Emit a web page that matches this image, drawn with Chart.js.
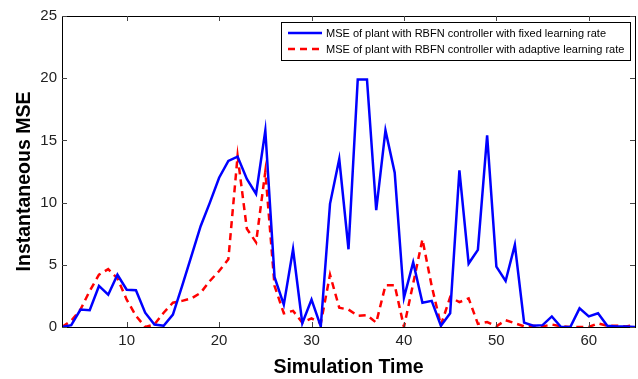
<!DOCTYPE html>
<html>
<head>
<meta charset="utf-8">
<script src="https://cdn.jsdelivr.net/npm/chart.js@4/dist/chart.umd.min.js"></script>
<style>
  html, body { margin: 0; padding: 0; background: #fff; }
  #wrap { width: 638px; height: 379px; }
</style>
</head>
<body>
<div id="wrap"><canvas id="mseChart" width="638" height="379"></canvas></div>
<script>
// Simulation time steps
const simTime = [3,4,5,6,7,8,9,10,11,12,13,14,15,16,17,18,19,20,21,22,23,24,25,26,27,28,29,30,31,32,33,34,
  35,36,37,38,39,40,41,42,43,44,45,46,47,48,49,50,51,52,53,54,55,56,57,58,59,60,61,62,63,64,65];

// MSE with fixed learning rate
const mseFixed = [0,0.15,1.4,1.35,3.3,2.6,4.2,3.0,2.95,1.15,0.2,0.1,1.0,3.3,5.7,8.1,10.0,12.0,13.35,13.7,11.9,10.7,
  15.8,4.0,1.8,6.25,0.3,2.2,0.05,9.9,13.5,6.25,19.9,19.9,9.4,15.8,12.4,2.35,5.2,1.95,2.1,0.1,1.1,12.6,5.1,6.2,
  15.4,4.85,3.7,6.6,0.35,0.1,0.15,0.85,0,0,1.5,0.85,1.1,0.1,0.05,0.05,0];

// MSE with adaptive learning rate
const mseAdaptive = [0,0.5,1.4,2.9,4.2,4.65,3.9,2.2,0.9,0,0.2,1.15,1.95,2.1,2.3,2.75,3.7,4.5,5.45,13.75,7.9,6.8,
  12.5,3.3,1.1,1.3,0.35,0.7,0.3,4.2,1.55,1.4,0.9,0.95,0.35,3.35,3.35,0,3.5,7.05,3.3,0.15,2.4,2.0,2.3,0.25,
  0.4,0.05,0.55,0.3,0.05,0.1,0.05,0.2,0.05,0,0,0,0.3,0.1,0.1,0.05,0.15];

const xTicks = [10,20,30,40,50,60];
const yTicks = [0,5,10,15,20,25];

const seriesLabels = [
  'MSE of plant with RBFN controller with fixed learning rate',
  'MSE of plant with RBFN controller with adaptive learning rate'
];
const yTitle = 'Instantaneous MSE';

function toPoints(values) {
  return simTime.map((t, i) => ({ x: t, y: values[i] }));
}

// Box around the plot with inward ticks on all sides (matlab style)
const framePlugin = {
  id: 'frame',
  afterDraw(chart) {
    const ctx = chart.ctx;
    const a = chart.chartArea;
    const xs = chart.scales.x, ys = chart.scales.y;
    ctx.save();
    ctx.strokeStyle = '#000';
    ctx.lineWidth = 1;
    ctx.strokeRect(Math.round(a.left) + 0.5, Math.round(a.top) + 0.5,
      Math.round(a.right - a.left), Math.round(a.bottom - a.top));
    ctx.strokeStyle = '#444';
    ctx.beginPath();
    xTicks.forEach(v => {
      const px = Math.round(xs.getPixelForValue(v)) + 0.5;
      ctx.moveTo(px, a.bottom); ctx.lineTo(px, a.bottom - 5);
      ctx.moveTo(px, a.top); ctx.lineTo(px, a.top + 5);
    });
    yTicks.forEach(v => {
      const py = Math.round(ys.getPixelForValue(v)) + 0.5;
      ctx.moveTo(a.left, py); ctx.lineTo(a.left + 5, py);
      ctx.moveTo(a.right, py); ctx.lineTo(a.right - 5, py);
    });
    ctx.stroke();

    // y axis title, sits a little below the centre like the original
    ctx.save();
    ctx.translate(25, (a.top + a.bottom) / 2 + 10);
    ctx.rotate(-Math.PI / 2);
    ctx.font = 'bold 19.5px "Liberation Sans", Arial, sans-serif';
    ctx.fillStyle = '#000';
    ctx.textAlign = 'center';
    ctx.textBaseline = 'middle';
    ctx.fillText(yTitle, 0, 0);
    ctx.restore();
    ctx.restore();
  }
};

// Legend box inside the top right corner
const boxLegendPlugin = {
  id: 'boxLegend',
  afterDraw(chart) {
    const ctx = chart.ctx;
    const a = chart.chartArea;
    const left = a.right - 354, top = a.top + 6, w = 349, h = 38;
    ctx.save();
    ctx.fillStyle = '#fff';
    ctx.fillRect(left, top, w, h);
    ctx.strokeStyle = '#000';
    ctx.lineWidth = 1;
    ctx.strokeRect(Math.round(left) + 0.5, Math.round(top) + 0.5, w, h);
    ctx.font = '11px "Liberation Sans", Arial, sans-serif';
    ctx.textBaseline = 'middle';
    ctx.fillStyle = '#000';
    chart.data.datasets.forEach((ds, i) => {
      const y = top + 11 + i * 16;
      ctx.strokeStyle = ds.borderColor;
      ctx.lineWidth = 2.5;
      ctx.setLineDash(ds.borderDash || []);
      ctx.beginPath();
      ctx.moveTo(left + 7, y);
      ctx.lineTo(left + 41, y);
      ctx.stroke();
      ctx.setLineDash([]);
      ctx.fillText(ds.label, left + 45, y + 0.5);
    });
    ctx.restore();
  }
};

new Chart(document.getElementById('mseChart'), {
  type: 'line',
  data: {
    datasets: [
      {
        label: seriesLabels[0],
        data: toPoints(mseFixed),
        borderColor: '#0000ff',
        borderWidth: 2.5,
        pointRadius: 0,
        tension: 0,
        fill: false
      },
      {
        label: seriesLabels[1],
        data: toPoints(mseAdaptive),
        borderColor: '#ff0000',
        borderWidth: 2.5,
        borderDash: [7, 5],
        pointRadius: 0,
        tension: 0,
        fill: false
      }
    ]
  },
  options: {
    responsive: false,
    animation: false,
    layout: { padding: { top: 16, right: 3, left: 0, bottom: 0 } },
    plugins: {
      legend: { display: false },
      tooltip: { enabled: false }
    },
    scales: {
      x: {
        type: 'linear',
        min: 3,
        max: 65,
        afterBuildTicks: s => { s.ticks = xTicks.map(v => ({ value: v })); },
        afterFit: s => { s.height = 52; },
        grid: { display: false, drawTicks: false },
        border: { display: false },
        ticks: {
          padding: 5,
          color: '#222',
          font: { family: '"Liberation Sans", Arial, sans-serif', size: 15 },
          maxRotation: 0
        },
        title: {
          display: true,
          text: 'Simulation Time',
          color: '#000',
          padding: { top: 2, bottom: 0 },
          font: { family: '"Liberation Sans", Arial, sans-serif', size: 19.5, weight: 'bold' }
        }
      },
      y: {
        min: 0,
        max: 25,
        afterBuildTicks: s => { s.ticks = yTicks.map(v => ({ value: v })); },
        afterFit: s => { s.width = 62; },
        grid: { display: false, drawTicks: false },
        border: { display: false },
        ticks: {
          padding: 5,
          color: '#222',
          font: { family: '"Liberation Sans", Arial, sans-serif', size: 15 }
        }
      }
    }
  },
  plugins: [framePlugin, boxLegendPlugin]
});
</script>
</body>
</html>
